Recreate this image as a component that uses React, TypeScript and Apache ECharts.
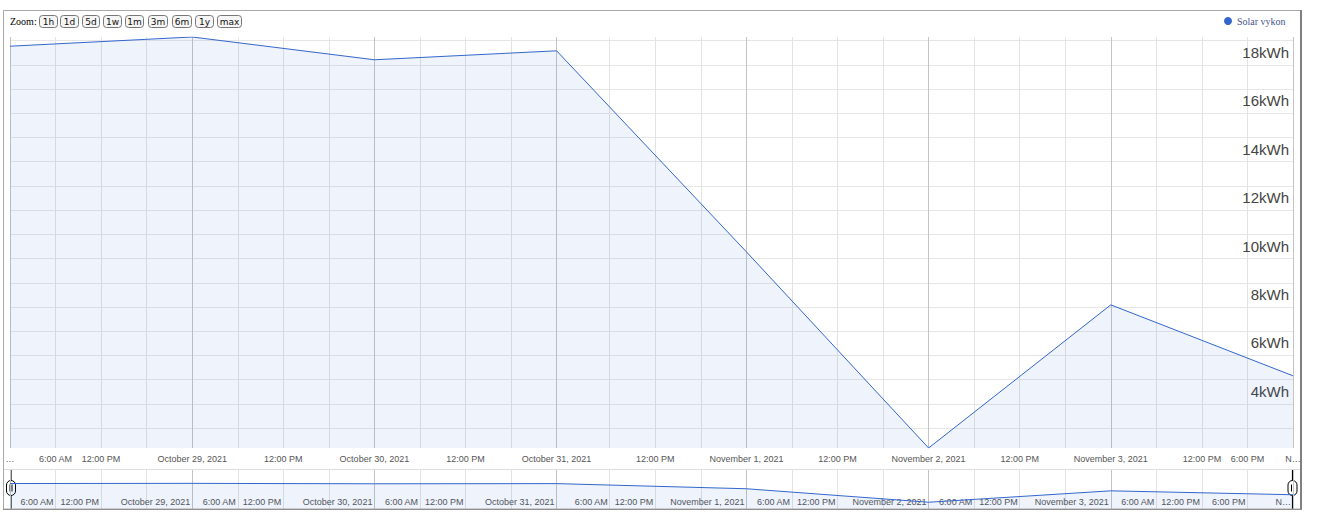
import React, { useEffect, useRef } from 'react';
import * as echarts from 'echarts';

// ---- data ----
const dates = ['2021-10-28', '2021-10-29', '2021-10-30', '2021-10-31', '2021-11-01', '2021-11-02', '2021-11-03', '2021-11-04'];
const values = [18.77, 19.15, 18.21, 18.58, 10.28, 2.18, 8.09, 5.16];
const seriesName = 'Solar vykon';
const unit = 'kWh';
const yLabelValues = [4, 6, 8, 10, 12, 14, 16, 18];
const yGridValues = [3, 4, 5, 6, 7, 8, 9, 10, 11, 12, 13, 14, 15, 16, 17, 18, 19];
const gridHours = [0, 6, 12, 18];

// [date, hour, label]
const mainTicks: [string, number, string][] = [
  ['2021-10-28', 0, '…'],
  ['2021-10-28', 6, '6:00 AM'],
  ['2021-10-28', 12, '12:00 PM'],
  ['2021-10-29', 0, 'October 29, 2021'],
  ['2021-10-29', 12, '12:00 PM'],
  ['2021-10-30', 0, 'October 30, 2021'],
  ['2021-10-30', 12, '12:00 PM'],
  ['2021-10-31', 0, 'October 31, 2021'],
  ['2021-10-31', 12, '12:00 PM'],
  ['2021-11-01', 0, 'November 1, 2021'],
  ['2021-11-01', 12, '12:00 PM'],
  ['2021-11-02', 0, 'November 2, 2021'],
  ['2021-11-02', 12, '12:00 PM'],
  ['2021-11-03', 0, 'November 3, 2021'],
  ['2021-11-03', 12, '12:00 PM'],
  ['2021-11-03', 18, '6:00 PM'],
  ['2021-11-04', 0, 'N…'],
];
const navTicks: [string, number, string][] = [
  ['2021-10-28', 6, '6:00 AM'],
  ['2021-10-28', 12, '12:00 PM'],
  ['2021-10-29', 0, 'October 29, 2021'],
  ['2021-10-29', 6, '6:00 AM'],
  ['2021-10-29', 12, '12:00 PM'],
  ['2021-10-30', 0, 'October 30, 2021'],
  ['2021-10-30', 6, '6:00 AM'],
  ['2021-10-30', 12, '12:00 PM'],
  ['2021-10-31', 0, 'October 31, 2021'],
  ['2021-10-31', 6, '6:00 AM'],
  ['2021-10-31', 12, '12:00 PM'],
  ['2021-11-01', 0, 'November 1, 2021'],
  ['2021-11-01', 6, '6:00 AM'],
  ['2021-11-01', 12, '12:00 PM'],
  ['2021-11-02', 0, 'November 2, 2021'],
  ['2021-11-02', 6, '6:00 AM'],
  ['2021-11-02', 12, '12:00 PM'],
  ['2021-11-03', 0, 'November 3, 2021'],
  ['2021-11-03', 6, '6:00 AM'],
  ['2021-11-03', 12, '12:00 PM'],
  ['2021-11-03', 18, '6:00 PM'],
  ['2021-11-04', 0, 'N…'],
];
const zoomButtons = ['1h', '1d', '5d', '1w', '1m', '3m', '6m', '1y', 'max'];

// Europe/Prague local time -> epoch ms (DST ended 2021-10-31 01:00 UTC)
function pragueMs(dateStr: string, hour: number): number {
  const [y, m, d] = dateStr.split('-').map(Number);
  const localAsUtc = Date.UTC(y, m - 1, d, hour);
  const dstEnd = Date.UTC(2021, 9, 31, 1);
  let ms = localAsUtc - 2 * 3600e3;
  if (ms >= dstEnd) ms = localAsUtc - 3600e3;
  return ms;
}

const FONT = 'Liberation Sans, Arial, sans-serif';

export default function App() {
  const ref = useRef<HTMLDivElement>(null);
  useEffect(() => {
    if (!ref.current) return;
    const chart = echarts.init(ref.current, undefined, { renderer: 'svg' });

    const tMin = pragueMs(dates[0], 0);
    const tMax = pragueMs(dates[dates.length - 1], 0);
    const sixHourly: number[] = [];
    const daily: number[] = [];
    dates.forEach((d, i) => {
      daily.push(pragueMs(d, 0));
      if (i < dates.length - 1) gridHours.forEach((h) => sixHourly.push(pragueMs(d, h)));
      else sixHourly.push(pragueMs(d, 0));
    });
    const mainMap = new Map<number, string>();
    mainTicks.forEach(([d, h, s]) => mainMap.set(pragueMs(d, h), s));
    const navMap = new Map<number, string>();
    navTicks.forEach(([d, h, s]) => navMap.set(pragueMs(d, h), s));

    const seriesData = dates.map((d, i) => [pragueMs(d, 0), values[i]]);
    const yMin = Math.min(...values);
    const yMax = Math.max(...values);

    const gridL = 10, gridW = 1283;

    const buttonRects: [number, number][] = [
      [39, 57], [60, 78], [82, 99], [103, 121], [125, 143], [148, 167], [172, 191], [195, 213], [217, 241],
    ];

    const handle = (cx: number) => ({
      type: 'group',
      z: 100,
      children: [
        { type: 'line', shape: { x1: cx, y1: 469, x2: cx, y2: 509 }, style: { stroke: '#000', lineWidth: 1.2 } },
        { type: 'rect', shape: { x: cx - 4.5, y: 480.5, width: 9, height: 15, r: 4.5 }, style: { fill: '#fff', stroke: '#000', lineWidth: 1 } },
        { type: 'line', shape: { x1: cx - 1, y1: 484.5, x2: cx - 1, y2: 491.5 }, style: { stroke: '#000', lineWidth: 1 } },
        { type: 'line', shape: { x1: cx + 1, y1: 484.5, x2: cx + 1, y2: 491.5 }, style: { stroke: '#000', lineWidth: 1 } },
      ],
    });

    const graphics: any[] = [
      { type: 'rect', z: 90, shape: { x: 3.5, y: 10.5, width: 1297, height: 498.5 }, style: { fill: 'none', stroke: '#a8a8a8', lineWidth: 1 } },
      { type: 'line', z: 91, shape: { x1: 1301, y1: 10, x2: 1301, y2: 510 }, style: { stroke: '#808080', lineWidth: 2 } },
      { type: 'line', z: 91, shape: { x1: 3, y1: 509.5, x2: 1302, y2: 509.5 }, style: { stroke: '#909090', lineWidth: 1 } },
      { type: 'line', z: 5, shape: { x1: 4, y1: 469.5, x2: 1300, y2: 469.5 }, style: { stroke: '#dddddd', lineWidth: 1 } },
      { type: 'text', x: 10, y: 21, style: { text: 'Zoom:', font: '10px "Liberation Serif", serif', fill: '#000', verticalAlign: 'middle', align: 'left' } },
      handle(11),
      handle(1292.5),
    ];
    zoomButtons.forEach((b, i) => {
      const [x0, x1] = buttonRects[i];
      graphics.push({
        type: 'rect',
        shape: { x: x0 + 0.5, y: 15.5, width: x1 - x0, height: 12, r: 3 },
        style: { fill: '#f5f5f5', stroke: '#777', lineWidth: 1 },
      });
      graphics.push({
        type: 'text',
        x: (x0 + x1) / 2 + 0.5,
        y: 21.5,
        style: { text: b, font: '9px "DejaVu Sans", sans-serif', fill: '#111', align: 'center', verticalAlign: 'middle' },
      });
    });

    const option: any = {
      animation: false,
      backgroundColor: '#fff',
      legend: {
        data: [{ name: seriesName, icon: 'circle' }],
        left: 1219,
        top: 11,
        itemWidth: 8,
        itemHeight: 8,
        itemGap: 5,
        textStyle: { fontFamily: '"Liberation Serif", serif', fontSize: 10, color: '#44558a' },
      },
      grid: [
        { left: gridL, top: 37, width: gridW, height: 411, outerBoundsMode: 'none', containLabel: false },
        { left: gridL, top: 469, width: gridW, height: 40, outerBoundsMode: 'none', containLabel: false },
      ],
      xAxis: [
        {
          gridIndex: 0, type: 'value', min: tMin, max: tMax,
          axisLine: { show: false },
          axisTick: { show: false, customValues: sixHourly },
          splitLine: { show: true, lineStyle: { color: '#e3e3e3', width: 1 } },
          axisLabel: {
            customValues: mainTicks.map(([d, h]) => pragueMs(d, h)),
            formatter: (v: number) => mainMap.get(v) ?? '',
            fontSize: 9, fontFamily: FONT, color: '#555', margin: 6,
          },
        },
        {
          gridIndex: 0, type: 'value', min: tMin, max: tMax, position: 'bottom',
          axisLine: { show: false },
          axisTick: { show: false, customValues: daily },
          axisLabel: { show: false },
          splitLine: { show: true, lineStyle: { color: '#c4c4c4', width: 1 } },
        },
        {
          gridIndex: 1, type: 'value', min: tMin, max: tMax,
          axisLine: { show: false },
          axisTick: { show: false, customValues: sixHourly },
          splitLine: { show: true, lineStyle: { color: '#e3e3e3', width: 1 } },
          axisLabel: {
            inside: true,
            customValues: navTicks.map(([d, h]) => pragueMs(d, h)),
            formatter: (v: number) => navMap.get(v) ?? '',
            fontSize: 9, fontFamily: FONT, color: '#555', margin: 3,
            align: 'right', padding: [0, 2, 0, 0],
          },
        },
        {
          gridIndex: 1, type: 'value', min: tMin, max: tMax, position: 'bottom',
          axisLine: { show: false },
          axisTick: { show: false, customValues: daily },
          axisLabel: { show: false },
          splitLine: { show: true, lineStyle: { color: '#c4c4c4', width: 1 } },
        },
      ],
      yAxis: [
        {
          gridIndex: 0, type: 'value', position: 'right', min: yMin, max: yMax,
          axisLine: { show: false },
          axisTick: { show: false, customValues: yGridValues },
          splitLine: { show: true, lineStyle: { color: '#e6e6e6', width: 1 } },
          axisLabel: {
            inside: true,
            customValues: yLabelValues,
            formatter: (v: number) => `${v}${unit}`,
            fontSize: 15, fontFamily: FONT, color: '#444', margin: 4,
            verticalAlign: 'bottom', padding: [0, 0, 5, 0],
          },
        },
        {
          gridIndex: 1, type: 'log', logBase: 10, min: 1, max: 100, show: false,
          splitLine: { show: false },
        },
      ],
      series: [
        {
          name: seriesName, type: 'line', xAxisIndex: 0, yAxisIndex: 0,
          data: seriesData, showSymbol: false, symbol: 'none',
          itemStyle: { color: '#3366cc' },
          lineStyle: { color: '#3366cc', width: 1 },
          areaStyle: { color: 'rgba(51,102,204,0.11)', origin: 'start' },
          z: 3,
        },
        {
          name: 'navigator', type: 'line', xAxisIndex: 2, yAxisIndex: 1,
          data: seriesData, showSymbol: false, symbol: 'none', silent: true,
          lineStyle: { color: '#3366cc', width: 1 },
          areaStyle: { color: 'rgba(51,102,204,0.11)', origin: 'start' },
          z: 3,
        },
      ],
      graphic: graphics,
    };
    chart.setOption(option);
    return () => chart.dispose();
  }, []);
  return <div ref={ref} style={{ position: 'absolute', left: 0, top: 0, width: 1341, height: 524 }} />;
}
